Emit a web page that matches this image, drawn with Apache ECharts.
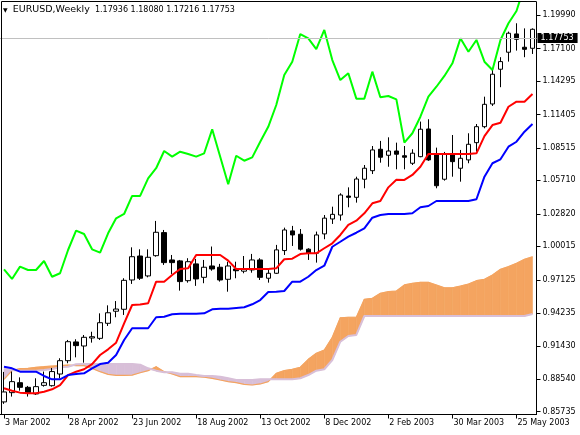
<!DOCTYPE html>
<html>
<head>
<meta charset="utf-8">
<script src="https://cdn.jsdelivr.net/npm/echarts@6/dist/echarts.min.js"></script>
<style>
html,body{margin:0;padding:0;background:#fff;}
#c{width:580px;height:435px;}
</style>
</head>
<body>
<div id="c"></div>
<script>
// ---- data ----
const symbolName = 'EURUSD,Weekly';
const lastBar = [1.17936, 1.18080, 1.17216, 1.17753]; // O H L C of the latest (partly hidden) bar

const categories = [
 '3 Mar 2002','10 Mar 2002','17 Mar 2002','24 Mar 2002','31 Mar 2002','7 Apr 2002','14 Apr 2002','21 Apr 2002',
 '28 Apr 2002','5 May 2002','12 May 2002','19 May 2002','26 May 2002','2 Jun 2002','9 Jun 2002','16 Jun 2002',
 '23 Jun 2002','30 Jun 2002','7 Jul 2002','14 Jul 2002','21 Jul 2002','28 Jul 2002','4 Aug 2002','11 Aug 2002',
 '18 Aug 2002','25 Aug 2002','1 Sep 2002','8 Sep 2002','15 Sep 2002','22 Sep 2002','29 Sep 2002','6 Oct 2002',
 '13 Oct 2002','20 Oct 2002','27 Oct 2002','3 Nov 2002','10 Nov 2002','17 Nov 2002','24 Nov 2002','1 Dec 2002',
 '8 Dec 2002','15 Dec 2002','22 Dec 2002','29 Dec 2002','5 Jan 2003','12 Jan 2003','19 Jan 2003','26 Jan 2003',
 '2 Feb 2003','9 Feb 2003','16 Feb 2003','23 Feb 2003','2 Mar 2003','9 Mar 2003','16 Mar 2003','23 Mar 2003',
 '30 Mar 2003','6 Apr 2003','13 Apr 2003','20 Apr 2003','27 Apr 2003','4 May 2003','11 May 2003','18 May 2003',
 '25 May 2003','1 Jun 2003','8 Jun 2003'
];

const opens = [0.8658,0.8738,0.8824,0.8784,0.8727,0.8801,0.8798,0.8899,0.9014,0.9176,0.9141,0.9210,0.9207,0.9337,0.9441,0.9458,
 0.9711,0.9918,0.9746,0.9921,1.0120,0.9884,0.9876,0.9705,0.9850,0.9734,0.9832,0.9821,0.9717,0.9806,0.9787,0.9798,
 0.9884,0.9726,0.9769,0.9965,1.0135,1.0106,0.9977,0.9942,1.0109,1.0238,1.0272,1.0436,1.0425,1.0581,1.0655,1.0840,
 1.0788,1.0825,1.0784,1.0719,1.0776,1.1015,1.0797,1.0581,1.0799,1.0676,1.0748,1.0897,1.1035,1.1231,1.1531,1.1678,
 1.1836,1.1721,1.1712];
const highs = [0.8917,0.8920,0.8870,0.8796,0.8862,0.8920,0.8951,0.9035,0.9193,0.9199,0.9236,0.9264,0.9423,0.9492,0.9529,0.9726,
 0.9993,0.9976,0.9976,1.0221,1.0143,0.9927,0.9884,0.9899,0.9893,0.9884,1.0000,0.9850,0.9869,0.9869,0.9918,0.9936,
 0.9899,0.9812,1.0014,1.0163,1.0178,1.0151,0.9985,1.0129,1.0272,1.0344,1.0460,1.0511,1.0603,1.0704,1.0868,1.0912,
 1.0943,1.0897,1.0868,1.0840,1.1079,1.1099,1.0854,1.0817,1.0963,1.0834,1.0978,1.1058,1.1294,1.1525,1.1635,1.1856,
 1.1928,1.1884,1.1884];
const lows = [0.8641,0.8704,0.8755,0.8704,0.8718,0.8790,0.8790,0.8862,0.8992,0.9043,0.8997,0.9170,0.9193,0.9314,0.9389,0.9409,
 0.9677,0.9711,0.9734,0.9912,0.9841,0.9763,0.9619,0.9688,0.9660,0.9683,0.9791,0.9697,0.9610,0.9726,0.9769,0.9774,
 0.9711,0.9688,0.9763,0.9927,1.0005,0.9965,0.9884,0.9861,1.0063,1.0195,1.0224,1.0339,1.0379,1.0503,1.0626,1.0724,
 1.0689,1.0667,1.0667,1.0704,1.0771,1.0740,1.0503,1.0569,1.0603,1.0560,1.0719,1.0819,1.1021,1.1214,1.1376,1.1597,
 1.1692,1.1635,1.1663];
const closes = [0.8744,0.8833,0.8784,0.8738,0.8790,0.8824,0.8920,0.9014,0.9178,0.9144,0.9216,0.9221,0.9342,0.9428,0.9460,0.9708,
 0.9912,0.9726,0.9907,1.0123,0.9861,0.9861,0.9697,0.9869,0.9720,0.9821,0.9806,0.9711,0.9832,0.9791,0.9804,0.9884,
 0.9734,0.9769,0.9971,1.0143,1.0100,0.9977,0.9942,1.0100,1.0245,1.0278,1.0445,1.0425,1.0583,1.0676,1.0834,1.0771,
 1.0825,1.0797,1.0771,1.0806,1.1013,1.0748,1.0525,1.0797,1.0733,1.0762,1.0883,1.1035,1.1228,1.1488,1.1597,1.1842,
 1.1790,1.1703,1.1876];

const tenkan = [0.8776,0.8755,0.8738,0.8732,0.8732,0.8746,0.8767,0.8804,0.8890,0.8919,0.8940,0.8985,0.9063,0.9112,0.9169,0.9337,
 0.9495,0.9499,0.9510,0.9696,0.9696,0.9754,0.9806,0.9812,0.9927,0.9927,0.9927,0.9927,0.9878,0.9806,0.9806,0.9806,
 0.9806,0.9806,0.9812,0.9890,0.9895,0.9935,0.9941,0.9941,0.9985,1.0028,1.0100,1.0186,1.0223,1.0287,1.0373,1.0393,
 1.0511,1.0577,1.0575,1.0618,1.0689,1.0799,1.0799,1.0799,1.0799,1.0799,1.0799,1.0805,1.0954,1.1049,1.1069,1.1207,
 1.1251,1.1251,1.1317];
const kijun = [0.8962,0.8948,0.8919,0.8919,0.8919,0.8882,0.8853,0.8853,0.8890,0.8899,0.8905,0.8948,0.8985,0.8997,0.9063,0.9193,
 0.9294,0.9294,0.9294,0.9389,0.9394,0.9415,0.9420,0.9420,0.9420,0.9423,0.9458,0.9463,0.9463,0.9469,0.9475,0.9501,
 0.9538,0.9607,0.9610,0.9616,0.9696,0.9696,0.9739,0.9797,0.9834,0.9998,1.0041,1.0085,1.0119,1.0157,1.0249,1.0272,
 1.0281,1.0281,1.0281,1.0287,1.0339,1.0350,1.0393,1.0393,1.0393,1.0393,1.0393,1.0408,1.0603,1.0719,1.0753,1.0862,
 1.0905,1.0992,1.1058];
const chikou = [0.9803,0.9720,0.9826,0.9797,0.9797,0.9875,0.9739,0.9769,0.9970,1.0137,1.0108,0.9976,0.9947,1.0114,1.0244,1.0281,
 1.0437,1.0437,1.0589,1.0676,1.0825,1.0776,1.0819,1.0799,1.0776,1.0805,1.1012,1.0776,1.0537,1.0784,1.0741,1.0770,
 1.0905,1.1034,1.1222,1.1481,1.1596,1.1835,1.1798,1.1705,1.1870,1.1610,1.1438,1.1496,1.1277,1.1277,1.1510,1.1289,
 1.1300,1.1271,1.0897,1.0978,1.1121,1.1294,1.1380,1.1473,1.1582,1.1798,1.1682,1.1784,1.1596,1.1524,1.1784,1.1928,
 1.2034,1.2250,1.2400];
const spanA = [0.8853,0.8928,0.8945,0.8948,0.8957,0.8962,0.8968,0.8971,0.8977,0.8971,0.8971,0.8948,0.8919,0.8896,0.8888,0.8888,
 0.8890,0.8910,0.8928,0.8962,0.8919,0.8899,0.8876,0.8876,0.8876,0.8871,0.8862,0.8847,0.8833,0.8824,0.8810,0.8804,
 0.8813,0.8833,0.8905,0.8928,0.8940,0.8957,0.9026,0.9078,0.9106,0.9216,0.9385,0.9389,0.9389,0.9544,0.9553,0.9596,
 0.9610,0.9616,0.9668,0.9682,0.9691,0.9691,0.9668,0.9644,0.9644,0.9659,0.9676,0.9705,0.9717,0.9754,0.9803,0.9826,
 0.9855,0.9890,0.9912];
const spanB = [0.8942,0.8934,0.8928,0.8928,0.8928,0.8934,0.8942,0.8957,0.8962,0.8983,0.8985,0.8985,0.8985,0.8985,0.8985,0.8985,
 0.8985,0.8979,0.8948,0.8928,0.8914,0.8914,0.8902,0.8902,0.8890,0.8882,0.8882,0.8876,0.8862,0.8847,0.8847,0.8847,
 0.8853,0.8853,0.8853,0.8853,0.8853,0.8862,0.8890,0.8928,0.8940,0.9020,0.9178,0.9227,0.9236,0.9400,0.9400,0.9400,
 0.9400,0.9400,0.9400,0.9400,0.9400,0.9400,0.9400,0.9400,0.9400,0.9400,0.9400,0.9400,0.9400,0.9400,0.9400,0.9400,
 0.9400,0.9400,0.9417];

const priceTicks = [0.85735,0.88540,0.91430,0.94235,0.97125,1.00015,1.02820,1.05710,1.08515,1.11405,1.14295,1.17100,1.19990];
const yMin = 0.85493, yMax = 1.21117;
const labelEvery = 8; // one date label every 8 weekly bars

// ---- chart ----
const ORANGE = '#F4A460', THISTLE = '#D8BFD8';
const FONT = 'DejaVu Sans';
const candleData = opens.map((o, i) => [o, closes[i], lows[i], highs[i]]);
const cloudData = spanA.map((a, i) => [i, a, spanB[i]]);

function renderCloud(params, api) {
  const i = api.value(0);
  if (i >= spanA.length - 1) return null;
  const a0 = api.coord([i, spanA[i]]), b0 = api.coord([i, spanB[i]]);
  const a1 = api.coord([i + 1, spanA[i + 1]]), b1 = api.coord([i + 1, spanB[i + 1]]);
  const d0 = spanA[i] - spanB[i], d1 = spanA[i + 1] - spanB[i + 1];
  const col = d => (d >= 0 ? ORANGE : THISTLE);
  if (d0 * d1 >= 0) {
    const c = col(d0 !== 0 ? d0 : d1);
    return { type: 'polygon', shape: { points: [a0, a1, b1, b0] }, style: { fill: c, stroke: c, lineWidth: 0.6 } };
  }
  const t = d0 / (d0 - d1);
  const p = [a0[0] + t * (a1[0] - a0[0]), a0[1] + t * (a1[1] - a0[1])];
  return { type: 'group', children: [
    { type: 'polygon', shape: { points: [a0, p, b0] }, style: { fill: col(d0), stroke: col(d0), lineWidth: 0.6 } },
    { type: 'polygon', shape: { points: [p, a1, b1] }, style: { fill: col(d1), stroke: col(d1), lineWidth: 0.6 } }
  ] };
}

const showEvery = (idx) => idx % labelEvery === 0;

const chart = echarts.init(document.getElementById('c'), null, { renderer: 'canvas' });
chart.setOption({
  animation: false,
  backgroundColor: '#fff',
  title: {
    text: '{t|▼}  {s|' + symbolName + '}  {v|' + lastBar.map(v => v.toFixed(5)).join(' ') + '}',
    left: 3, top: 5, padding: 0,
    textStyle: {
      fontWeight: 'normal', color: '#000', fontFamily: FONT, fontSize: 8,
      rich: {
        t: { fontSize: 6, color: '#000', fontFamily: FONT },
        s: { fontSize: 9.5, color: '#000', fontFamily: FONT },
        v: { fontSize: 8, color: '#000', fontFamily: FONT }
      }
    }
  },
  grid: { left: -0.7, right: 43.5, top: 2, bottom: 20.5, containLabel: false },
  xAxis: {
    type: 'category', data: categories, boundaryGap: true,
    axisLine: { show: true, lineStyle: { color: '#000', width: 1 } },
    axisTick: { show: true, interval: showEvery, alignWithLabel: true, length: 4, lineStyle: { color: '#000' } },
    axisLabel: { interval: showEvery, align: 'left', margin: 4, fontSize: 8, color: '#000', fontFamily: FONT, padding: [0, 0, 0, 1], hideOverlap: false },
    splitLine: { show: false }
  },
  yAxis: {
    type: 'value', position: 'right', min: yMin, max: yMax,
    splitLine: { show: false },
    axisLine: { show: true, lineStyle: { color: '#000', width: 1 } },
    axisTick: { show: true, length: 4, customValues: priceTicks, lineStyle: { color: '#000' } },
    axisLabel: { customValues: priceTicks, formatter: v => v.toFixed(5), margin: 6, fontSize: 8, color: '#000', fontFamily: FONT }
  },
  graphic: [
    { type: 'line', shape: { x1: 1.5, y1: 1.5, x2: 536.5, y2: 1.5 }, style: { stroke: '#000', lineWidth: 1 }, z: 10 },
    { type: 'line', shape: { x1: 1.5, y1: 1.5, x2: 1.5, y2: 414.5 }, style: { stroke: '#000', lineWidth: 1 }, z: 10 }
  ],
  series: [
    {
      name: 'Kumo', type: 'custom', renderItem: renderCloud, data: cloudData,
      encode: { x: 0, y: [1, 2] }, z: 1, silent: true
    },
    {
      name: 'Senkou Span A', type: 'line', data: spanA, symbol: 'none', z: 1, silent: true,
      lineStyle: { color: ORANGE, width: 1.2 },
      markLine: {
        silent: true, symbol: ['none', 'none'],
        lineStyle: { color: '#C0C0C0', width: 1, type: 'solid' },
        label: {
          show: true, position: 'end', distance: 1, formatter: lastBar[3].toFixed(5),
          backgroundColor: '#000', color: '#fff', padding: [1, 4, 1, 3], fontSize: 8, fontFamily: FONT
        },
        data: [{ yAxis: lastBar[3] }]
      }
    },
    {
      name: 'Senkou Span B', type: 'line', data: spanB, symbol: 'none', z: 1, silent: true,
      lineStyle: { color: THISTLE, width: 2 }
    },
    {
      name: 'EURUSD', type: 'candlestick', data: candleData, barWidth: 5, z: 2,
      itemStyle: { color: '#fff', color0: '#000', borderColor: '#000', borderColor0: '#000', borderWidth: 1 }
    },
    { name: 'Tenkan-sen', type: 'line', data: tenkan, symbol: 'none', z: 3, lineStyle: { color: '#FF0000', width: 2 } },
    { name: 'Kijun-sen', type: 'line', data: kijun, symbol: 'none', z: 3, lineStyle: { color: '#0000FF', width: 2 } },
    { name: 'Chikou Span', type: 'line', data: chikou, symbol: 'none', z: 3, clip: true, lineStyle: { color: '#00FF00', width: 2 } }
  ]
});
</script>
</body>
</html>
